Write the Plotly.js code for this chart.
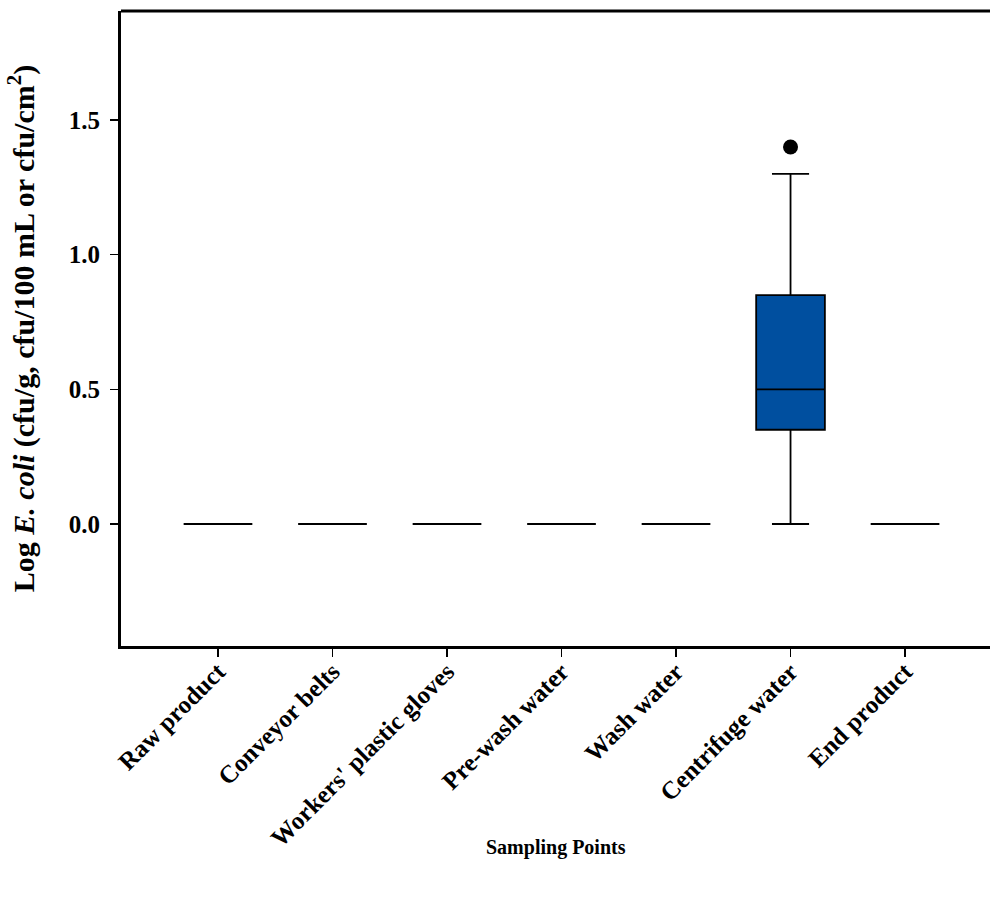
<!DOCTYPE html>
<html>
<head>
<meta charset="utf-8">
<script src="https://cdn.plot.ly/plotly-3.0.1.min.js"></script>
<style>html,body{margin:0;padding:0;background:#fff;overflow:hidden}</style>
</head>
<body>
<div id="chart" style="width:990px;height:918px"></div>
<script>
const categories = ["Raw product", "Conveyor belts", "Workers' plastic gloves", "Pre-wash water", "Wash water", "Centrifuge water", "End product"];
const q1 =         [0, 0, 0, 0, 0, 0.35, 0];
const medians =    [0, 0, 0, 0, 0, 0.50, 0];
const q3 =         [0, 0, 0, 0, 0, 0.85, 0];
const lowerFence = [0, 0, 0, 0, 0, 0.00, 0];
const upperFence = [0, 0, 0, 0, 0, 1.30, 0];
const outlierCats = ["Centrifuge water"];
const outlierVals = [1.4];
const yTicks = [0, 0.5, 1.0, 1.5];
const yTickLabels = ["0.0", "0.5", "1.0", "1.5"];

const font = "'Liberation Serif', 'Times New Roman', serif";

const traces = [
  {
    type: "box",
    x: categories,
    q1: q1, median: medians, q3: q3,
    lowerfence: lowerFence, upperfence: upperFence,
    boxpoints: false,
    fillcolor: "#004f9f",
    line: {color: "#000", width: 1.8},
    width: 0.6,
    whiskerwidth: 0.54,
    hoverinfo: "skip",
    showlegend: false
  },
  {
    type: "scatter", mode: "markers",
    x: outlierCats, y: outlierVals,
    marker: {color: "#000", size: 15},
    showlegend: false, hoverinfo: "skip"
  }
];

const layout = {
  width: 990, height: 918,
  margin: {l: 121, r: 0, t: 11, b: 272},
  paper_bgcolor: "#fff", plot_bgcolor: "#fff",
  showlegend: false,
  font: {family: font, color: "#000"},
  xaxis: {
    type: "category",
    categoryarray: categories,
    range: [-0.847, 6.742],
    showline: true, linecolor: "#000", linewidth: 3,
    ticks: "outside", ticklen: 8, tickwidth: 1.5, tickcolor: "#000",
    tickangle: -45,
    ticklabelstandoff: -10,
    tickfont: {family: font, size: 25, color: "#000", weight: "bold"},
    showgrid: false, zeroline: false,
    automargin: false
  },
  yaxis: {
    range: [-0.453, 1.905],
    tickvals: yTicks, ticktext: yTickLabels,
    showline: true, linecolor: "#000", linewidth: 3,
    ticks: "outside", ticklen: 8, tickwidth: 1.5, tickcolor: "#000",
    ticklabelstandoff: 5,
    tickfont: {family: font, size: 25, color: "#000", weight: "bold"},
    showgrid: false, zeroline: false,
    automargin: false,
    title: {text: "<b>Log <i>E. coli</i> (cfu/g, cfu/100 mL or cfu/cm<sup>2</sup>)</b>", font: {family: font, size: 30, color: "#000"}, standoff: 26}
  },
  annotations: [
    {text: "<b>Sampling Points</b>", xref: "paper", yref: "paper", x: 0.5, y: -0.318,
     xanchor: "center", yanchor: "middle", showarrow: false,
     font: {family: font, size: 20, color: "#000"}}
  ],
  shapes: [
    {type: "line", xref: "paper", yref: "paper", x0: 0, x1: 1, y0: 1, y1: 1, line: {color: "#000", width: 3}}
  ]
};

Plotly.newPlot("chart", traces, layout, {displayModeBar: false, staticPlot: true});
</script>
</body>
</html>
